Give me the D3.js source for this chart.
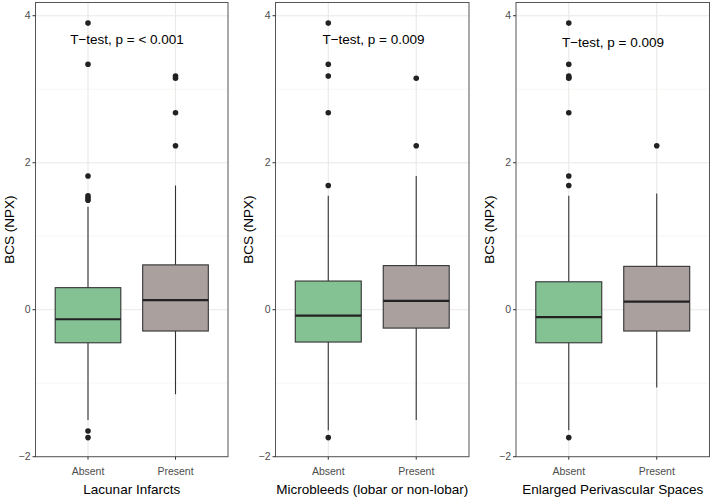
<!DOCTYPE html>
<html><head><meta charset="utf-8">
<script src="https://cdn.jsdelivr.net/npm/d3@7"></script>
<style>body{margin:0;background:#fff}svg{display:block}text{font-family:"Liberation Sans",Arial,Helvetica,sans-serif}</style>
</head><body><svg id="c" width="712" height="500"></svg>
<script>
const groups = ["Absent", "Present"];
const panelTitles = ["Lacunar Infarcts", "Microbleeds (lobar or non-lobar)", "Enlarged Perivascular Spaces"];
const pLabels = ["T\u2212test, p = < 0.001", "T\u2212test, p = 0.009", "T\u2212test, p = 0.009"];
const yTicks = [-2, 0, 2, 4];
const yMinor = [-1, 1, 3];
// box stats per panel: [lowWhisker, q1, median, q3, highWhisker]
const lacunarStats = [[-1.50, -0.45, -0.13, 0.30, 1.40], [-1.15, -0.29, 0.13, 0.61, 1.69]];
const microStats = [[-1.64, -0.44, -0.08, 0.39, 1.55], [-1.50, -0.25, 0.12, 0.60, 1.82]];
const epvsStats = [[-1.64, -0.45, -0.10, 0.38, 1.55], [-1.06, -0.29, 0.11, 0.59, 1.58]];
const lacunarOut = [[3.90, 3.34, 1.82, 1.55, 1.52, 1.49, -1.65, -1.74], [3.18, 3.15, 2.68, 2.23]];
const microOut = [[3.90, 3.34, 3.18, 2.68, 1.69, -1.74], [3.15, 2.23]];
const epvsOut = [[3.90, 3.34, 3.18, 3.16, 3.15, 2.68, 1.82, 1.69, -1.74], [2.23]];

const panels = [
  {left: 35.5, right: 228, stats: lacunarStats, out: lacunarOut, labX: 127, labY: 44, ttlX: 9},
  {left: 275.5, right: 469, stats: microStats, out: microOut, labX: 373.5, labY: 44, ttlX: 248.5},
  {left: 516, right: 709.5, stats: epvsStats, out: epvsOut, labX: 613, labY: 47, ttlX: 489.5}
];
const fills = ["#7dbf8e", "#a59c9a"];
const plotTop = 2.5, plotBottom = 456.7;
const svg = d3.select("#c");
const y = d3.scaleLinear().domain([-2, 4.18]).range([plotBottom, plotTop]);

panels.forEach((p, i) => {
  const g = svg.append("g");
  // ggplot-like discrete axis: centers at 1,2 over [0.4,2.6]
  const xc = d3.scaleLinear().domain([0.4, 2.6]).range([p.left, p.right]);
  const unit = xc(2) - xc(1);
  yMinor.forEach(v => g.append("line").attr("x1", p.left).attr("x2", p.right).attr("y1", y(v)).attr("y2", y(v)).attr("stroke", "#f2f0ee").attr("stroke-width", 0.6));
  yTicks.forEach(v => g.append("line").attr("x1", p.left).attr("x2", p.right).attr("y1", y(v)).attr("y2", y(v)).attr("stroke", "#ebe8e6").attr("stroke-width", 1.1));
  groups.forEach((gr, j) => g.append("line").attr("x1", xc(j+1)).attr("x2", xc(j+1)).attr("y1", plotTop).attr("y2", plotBottom).attr("stroke", "#ebe8e6").attr("stroke-width", 1.1));
  groups.forEach((gr, j) => {
    const s = p.stats[j];
    const cx = xc(j+1), hw = unit*0.375;
    g.append("line").attr("x1", cx).attr("x2", cx).attr("y1", y(s[4])).attr("y2", y(s[3])).attr("stroke", "#333").attr("stroke-width", 1.1);
    g.append("line").attr("x1", cx).attr("x2", cx).attr("y1", y(s[1])).attr("y2", y(s[0])).attr("stroke", "#333").attr("stroke-width", 1.1);
    g.append("rect").attr("x", cx-hw).attr("width", 2*hw).attr("y", y(s[3])).attr("height", y(s[1])-y(s[3]))
      .attr("fill", fills[j]).attr("fill-opacity", 0.95).attr("stroke", "#333").attr("stroke-width", 1.1);
    g.append("line").attr("x1", cx-hw).attr("x2", cx+hw).attr("y1", y(s[2])).attr("y2", y(s[2])).attr("stroke", "#222").attr("stroke-width", 2.2);
    p.out[j].forEach(v => g.append("circle").attr("cx", cx).attr("cy", y(v)).attr("r", 2.8).attr("fill", "#222"));
  });
  g.append("rect").attr("x", p.left).attr("y", plotTop).attr("width", p.right-p.left).attr("height", plotBottom-plotTop).attr("fill", "none").attr("stroke", "#555").attr("stroke-width", 1);
  yTicks.forEach(v => {
    g.append("line").attr("x1", p.left-3).attr("x2", p.left).attr("y1", y(v)).attr("y2", y(v)).attr("stroke", "#333");
    g.append("text").attr("x", p.left-5).attr("y", y(v)).attr("dy", "0.35em").attr("text-anchor", "end").attr("font-size", 10.5).attr("fill", "#4d4d4d").text(v < 0 ? "\u2212" + Math.abs(v) : v);
  });
  groups.forEach((gr, j) => {
    g.append("line").attr("x1", xc(j+1)).attr("x2", xc(j+1)).attr("y1", plotBottom).attr("y2", plotBottom+3).attr("stroke", "#333");
    g.append("text").attr("x", xc(j+1)).attr("y", 471).attr("dy", "0.35em").attr("text-anchor", "middle").attr("font-size", 10.5).attr("fill", "#4d4d4d").text(gr);
  });
  g.append("text").attr("x", (p.left+p.right)/2).attr("y", 489).attr("dy", "0.35em").attr("text-anchor", "middle").attr("font-size", 13.5).attr("fill", "#000").text(panelTitles[i]);
  g.append("text").attr("transform", `translate(${p.ttlX},${(plotTop+plotBottom)/2}) rotate(-90)`).attr("text-anchor", "middle").attr("dy", "0.35em").attr("font-size", 13.5).attr("fill", "#000").text("BCS (NPX)");
  g.append("text").attr("x", p.labX).attr("y", p.labY).attr("text-anchor", "middle").attr("font-size", 13.5).attr("fill", "#000").text(pLabels[i]);
});
</script></body></html>
